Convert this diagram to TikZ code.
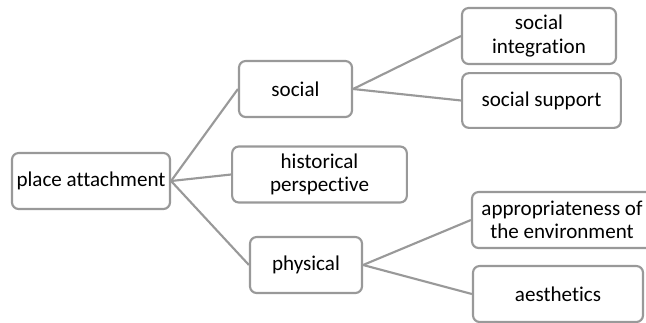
\documentclass[tikz,border=0pt]{standalone}
\usepackage{fontspec}
\setmainfont{Carlito}[Ligatures={NoCommon}]
\definecolor{boxgray}{HTML}{999999}
\begin{document}
\begin{tikzpicture}[x=0.75pt,y=-0.75pt]
		\tikzset{
			topic/.style={draw=boxgray, line width=1.6pt, rounded corners=5pt, fill=white,
				align=center, inner sep=1pt, minimum height=42pt,
				font=\fontsize{15.8}{17.5}\selectfont},
			link/.style={draw=boxgray, line width=1.6pt}
		}
		\clip (0,0) rectangle (646,322);
		\node [topic, minimum width=118.5pt] (place) at (91,181) {place attachment};
		\node [topic, minimum width=84.75pt] (social) at (295.5,89) {social};
		\node [topic, minimum width=131pt] (hist) at (319.5,174.5) {historical\\perspective};
		\node [topic, minimum width=84pt] (phys) at (306,265) {physical};
		\node [topic, minimum width=115.5pt] (integ) at (539,36) {social\\integration};
		\node [topic, minimum width=119pt, minimum height=41pt] (supp) at (541.5,100.5) {social support};
		\node [topic, minimum width=135pt] (approp) at (562,220) {appropriateness of\\the environment};
		\node [topic, minimum width=127.5pt] (aesth) at (558,294) {aesthetics};
		% links
		\draw [link] (place.east) -- (social.west);
		\draw [link] (place.east) -- (hist.west);
		\draw [link] (place.east) -- (phys.west);
		\draw [link] (social.east) -- (integ.west);
		\draw [link] (social.east) -- (supp.west);
		\draw [link] (phys.east) -- (approp.west);
		\draw [link] (phys.east) -- (aesth.west);
	\end{tikzpicture}
\end{document}
